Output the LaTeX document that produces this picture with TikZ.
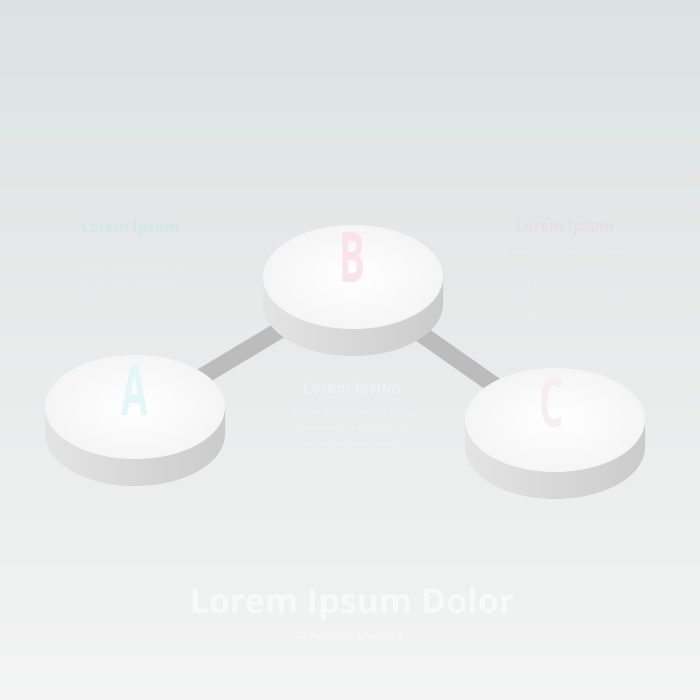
\documentclass[tikz,border=0pt]{standalone}
\usepackage{fontspec}
\setmainfont{Open Sans}
\definecolor{bgtop}{HTML}{DCE2E2}
\definecolor{bgbot}{HTML}{F3F4F3}
\definecolor{barc}{HTML}{BCBCBC}
\definecolor{sideL}{HTML}{E4E4E4}
\definecolor{sideM}{HTML}{E6E6E6}
\definecolor{sideR}{HTML}{CBCBCB}
\definecolor{topE}{HTML}{F5F5F5}
\definecolor{letA}{HTML}{E4F6F9}
\definecolor{letB}{HTML}{FBE3EC}
\definecolor{letC}{HTML}{F7EEF2}
\definecolor{headA}{HTML}{D2E7E7}
\definecolor{headC}{HTML}{E6DDE5}
\definecolor{headB}{HTML}{EEF2F2}
\definecolor{bodyT}{HTML}{E7ECEC}
\definecolor{bodyM}{HTML}{EEF1F1}
\definecolor{titleT}{HTML}{F8F9F8}
\tikzset{
  bar/.style={line width=17pt, draw=barc},
  disc/.pic={
    \shade[left color=sideL, middle color=sideM, right color=sideR]
      (-90,0) -- (-90,-27) arc[start angle=180,end angle=360,x radius=90,y radius=52] -- (90,0) -- cycle;
    \shade[inner color=white, outer color=topE] (0,0) ellipse[x radius=90,y radius=52];
  },
  letter/.style={font=\fontsize{70}{70}\selectfont\bfseries, inner sep=0pt},
  heading/.style={font=\fontsize{15}{15}\selectfont\bfseries, inner sep=0pt},
  body/.style={font=\fontsize{9}{16}\selectfont, text width=125pt, align=center, inner sep=0pt},
}
\begin{document}
\begin{tikzpicture}[x=1pt,y=1pt]
\shade[top color=bgtop, bottom color=bgbot] (0,0) rectangle (700,700);
\useasboundingbox (0,0) rectangle (700,700);
% disc centres and bar anchors
\coordinate (A) at (135,293);
\coordinate (B) at (353,423);
\coordinate (C) at (555,280);
\coordinate (Ab) at (135,283);
\coordinate (Bb) at (353,414);
\coordinate (Cb) at (555,272);
% connectors
\draw[bar] (Ab) -- (Bb);
\draw[bar] (Bb) -- (Cb);
% discs
\pic at (A) {disc};
\pic at (B) {disc};
\pic at (C) {disc};
% letters
\node[letter, text=letA] (lA) at (135,310) {\scalebox{0.55}[1]{A}};
\node[letter, text=letB] (lB) at (352,442) {\scalebox{0.55}[1]{B}};
\node[letter, text=letC] (lC) at (552,297) {\scalebox{0.55}[1]{C}};
% text blocks
\node[heading, text=headA] (hA) at (130,471) {Lorem Ipsum};
\node[body, text=bodyT] (tA) at (130,414) {Lorem ipsum dolor sit amet, consectetur adipiscing elit, sed do eiusmod tempor incididunt ut labore et dolore magna aliqua ut enim.};
\node[heading, text=headC] (hC) at (565,472) {Lorem Ipsum};
\node[body, text=bodyT] (tC) at (566,415) {Lorem ipsum dolor sit amet, consectetur adipiscing elit, sed do eiusmod tempor incididunt ut labore et dolore magna aliqua ut enim.};
\node[heading, text=headB] (hB) at (352,310) {Lorem Ipsum};
\node[body, text=bodyM] (tB) at (354,255) {Lorem ipsum dolor sit amet, consectetur adipiscing elit, sed do eiusmod tempor incididunt ut labore et dolore magna aliqua ut enim.};
% title
\node[font=\fontsize{34}{34}\selectfont\bfseries, text=titleT, inner sep=0pt] (title) at (352,95) {Lorem Ipsum Dolor};
\node[font=\fontsize{10}{10}\selectfont, text=titleT, inner sep=0pt] (sub) at (350,63) {Consectetur adipiscing};
\end{tikzpicture}
\end{document}
